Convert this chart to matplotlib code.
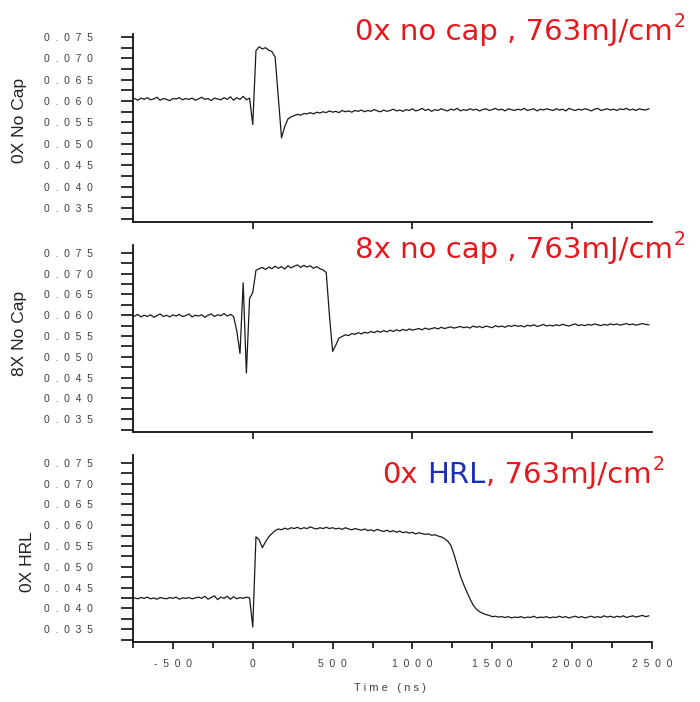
import numpy as np
import matplotlib
matplotlib.use("Agg")
import matplotlib.pyplot as plt
from matplotlib.ticker import FixedLocator, MultipleLocator, NullFormatter

plt.rcParams['font.family'] = ['Liberation Sans', 'DejaVu Sans']

# Sampling grid of the transient recordings (ns)
time_ns = np.arange(-740, 2500, 20)

# 0X, no cap, 763 mJ/cm^2
signal_0x_nocap = [
    0.0606, 0.0602, 0.0607, 0.0604, 0.0608, 0.0603, 0.0605, 0.0609, 0.0602, 0.0606,
    0.0604, 0.0601, 0.0606, 0.0605, 0.0608, 0.0603, 0.0606, 0.0604, 0.0607, 0.0602,
    0.0605, 0.0609, 0.0604, 0.0606, 0.0601, 0.0607, 0.0605, 0.0603, 0.0608, 0.0604,
    0.0610, 0.0602, 0.0608, 0.0604, 0.0611, 0.0603, 0.0607, 0.0545, 0.0718, 0.0727,
    0.0722, 0.0725, 0.0719, 0.0716, 0.0703, 0.0610, 0.0514, 0.0540, 0.0558, 0.0563,
    0.0566, 0.0569, 0.0567, 0.0571, 0.0570, 0.0573, 0.0570, 0.0574, 0.0572, 0.0575,
    0.0573, 0.0577, 0.0574, 0.0576, 0.0573, 0.0578, 0.0575, 0.0577, 0.0574, 0.0578,
    0.0576, 0.0579, 0.0575, 0.0578, 0.0576, 0.0580, 0.0577, 0.0575, 0.0579, 0.0576,
    0.0578, 0.0581, 0.0577, 0.0579, 0.0576, 0.0580, 0.0578, 0.0582, 0.0577, 0.0579,
    0.0583, 0.0578, 0.0581, 0.0576, 0.0580, 0.0578, 0.0582, 0.0579, 0.0577, 0.0581,
    0.0579, 0.0583, 0.0577, 0.0580, 0.0578, 0.0582, 0.0579, 0.0581, 0.0577, 0.0580,
    0.0582, 0.0578, 0.0580, 0.0583, 0.0579, 0.0581, 0.0577, 0.0582, 0.0580, 0.0578,
    0.0581, 0.0579, 0.0583, 0.0578, 0.0580, 0.0582, 0.0577, 0.0581, 0.0579, 0.0582,
    0.0580, 0.0578, 0.0582, 0.0579, 0.0581, 0.0577, 0.0583, 0.0580, 0.0578, 0.0581,
    0.0579, 0.0582, 0.0580, 0.0577, 0.0581, 0.0583, 0.0578, 0.0580, 0.0582, 0.0579,
    0.0581, 0.0578, 0.0582, 0.0580, 0.0583, 0.0579, 0.0581, 0.0578, 0.0582, 0.0580,
    0.0579, 0.0582,
]

# 8X, no cap, 763 mJ/cm^2
signal_8x_nocap = [
    0.0598, 0.0602, 0.0596, 0.0600, 0.0597, 0.0601, 0.0595, 0.0599, 0.0603, 0.0597,
    0.0600, 0.0596, 0.0601, 0.0598, 0.0602, 0.0597, 0.0599, 0.0603, 0.0596, 0.0600,
    0.0598, 0.0601, 0.0595, 0.0600, 0.0603, 0.0597, 0.0601, 0.0599, 0.0604, 0.0598,
    0.0602, 0.0597, 0.0562, 0.0508, 0.0678, 0.0461, 0.0640, 0.0655, 0.0708, 0.0712,
    0.0715, 0.0710, 0.0716, 0.0712, 0.0718, 0.0713, 0.0717, 0.0711, 0.0719, 0.0714,
    0.0718, 0.0721, 0.0715, 0.0720, 0.0716, 0.0719, 0.0713, 0.0717, 0.0712, 0.0709,
    0.0703, 0.0600, 0.0513, 0.0528, 0.0545, 0.0549, 0.0553, 0.0551, 0.0556, 0.0554,
    0.0558, 0.0555, 0.0559, 0.0557, 0.0561, 0.0558, 0.0562, 0.0559, 0.0563, 0.0560,
    0.0564, 0.0561, 0.0565, 0.0562, 0.0566, 0.0563, 0.0567, 0.0564, 0.0566, 0.0568,
    0.0565, 0.0569, 0.0566, 0.0568, 0.0570, 0.0567, 0.0571, 0.0568, 0.0570, 0.0572,
    0.0569, 0.0571, 0.0573, 0.0570, 0.0572, 0.0569, 0.0574, 0.0571, 0.0573, 0.0570,
    0.0574, 0.0572, 0.0570, 0.0575, 0.0572, 0.0574, 0.0571, 0.0575, 0.0573, 0.0576,
    0.0573, 0.0575, 0.0572, 0.0576, 0.0574, 0.0577, 0.0573, 0.0575, 0.0578, 0.0574,
    0.0576, 0.0574, 0.0577, 0.0575, 0.0578, 0.0576, 0.0574, 0.0577, 0.0579, 0.0575,
    0.0577, 0.0575, 0.0578, 0.0576, 0.0579, 0.0577, 0.0575, 0.0578, 0.0576, 0.0579,
    0.0577, 0.0579, 0.0576, 0.0578, 0.0580, 0.0577, 0.0579, 0.0576, 0.0578, 0.0580,
    0.0578, 0.0577,
]

# 0X, HRL cap, 763 mJ/cm^2
signal_0x_hrl = [
    0.0425, 0.0423, 0.0426, 0.0424, 0.0427, 0.0423, 0.0425, 0.0422, 0.0426, 0.0424,
    0.0423, 0.0426, 0.0424, 0.0427, 0.0422, 0.0425, 0.0424, 0.0426, 0.0423, 0.0425,
    0.0427, 0.0424, 0.0429, 0.0422, 0.0426, 0.0430, 0.0421, 0.0427, 0.0424, 0.0429,
    0.0422, 0.0428, 0.0423, 0.0426, 0.0424, 0.0427, 0.0425, 0.0355, 0.0572, 0.0565,
    0.0546, 0.0560, 0.0572, 0.0580, 0.0587, 0.0591, 0.0589, 0.0593, 0.0590, 0.0594,
    0.0592, 0.0595, 0.0591, 0.0594, 0.0592, 0.0596, 0.0593, 0.0591, 0.0594, 0.0592,
    0.0595, 0.0592, 0.0594, 0.0591, 0.0593, 0.0590, 0.0594, 0.0591, 0.0589, 0.0592,
    0.0590, 0.0588, 0.0591, 0.0587, 0.0589, 0.0586, 0.0590, 0.0587, 0.0585, 0.0588,
    0.0584, 0.0587, 0.0583, 0.0586, 0.0582, 0.0584, 0.0581, 0.0583, 0.0579, 0.0582,
    0.0580, 0.0578, 0.0579, 0.0576, 0.0577, 0.0574, 0.0572, 0.0568, 0.0562, 0.0552,
    0.0530, 0.0504, 0.0478, 0.0458, 0.0440, 0.0423, 0.0408, 0.0398, 0.0392, 0.0388,
    0.0385, 0.0383, 0.0380, 0.0381, 0.0379, 0.0380, 0.0378, 0.0380, 0.0377, 0.0379,
    0.0378, 0.0380, 0.0377, 0.0379, 0.0378, 0.0381, 0.0377, 0.0379, 0.0378, 0.0380,
    0.0377, 0.0379, 0.0378, 0.0381, 0.0378, 0.0380, 0.0377, 0.0379, 0.0381, 0.0378,
    0.0380, 0.0377, 0.0379, 0.0381, 0.0378, 0.0380, 0.0378, 0.0382, 0.0379, 0.0381,
    0.0378, 0.0381, 0.0379, 0.0382, 0.0378, 0.0380, 0.0382, 0.0379, 0.0381, 0.0383,
    0.0380, 0.0382,
]

panel_signals = [signal_0x_nocap, signal_8x_nocap, signal_0x_hrl]
panel_ylabels = ["0X No Cap", "8X No Cap", "0X HRL"]

ytick_values = [0.035, 0.040, 0.045, 0.050, 0.055, 0.060, 0.065, 0.070, 0.075]
ytick_labels = ["0.035", "0.040", "0.045", "0.050", "0.055", "0.060", "0.065", "0.070", "0.075"]
xtick_values = [-500, 0, 500, 1000, 1500, 2000, 2500]
xtick_labels = ["-500", "0", "500", "1000", "1500", "2000", "2500"]
upper_xtick_values = [0, 1000, 2000]

RED = "#e3191e"
BLUE = "#1c2fb4"
TICK_GREY = "#404040"


def spaced(s, gap="  "):
    return gap.join(s)


W, H = 700, 702
fig = plt.figure(figsize=(W / 100, H / 100), dpi=100)

# axes boxes in pixels: (top, bottom) of each panel, shared left/right
left_px, right_px = 133, 652
panel_rows = [(34, 222), (245, 432), (455, 642)]
panel_ylims = [(0.0317, 0.0757), (0.0319, 0.0769), (0.0319, 0.0769)]

axes = []
for i, ((top, bot), ylim, sig) in enumerate(zip(panel_rows, panel_ylims, panel_signals)):
    ax = fig.add_axes([left_px / W, 1 - bot / H, (right_px - left_px) / W, (bot - top) / H])
    ax.plot(time_ns, sig, color="#1a1a1a", lw=0.9)
    ax.set_xlim(-750, 2500)
    ax.set_ylim(*ylim)
    for side in ("top", "right"):
        ax.spines[side].set_visible(False)
    for side in ("left", "bottom"):
        ax.spines[side].set_linewidth(1.3)
        ax.spines[side].set_color("#111111")

    ax.yaxis.set_major_locator(FixedLocator(ytick_values))
    ax.set_yticklabels([spaced(s) for s in ytick_labels])
    ax.yaxis.set_minor_locator(MultipleLocator(0.0025))
    ax.tick_params(axis="y", which="both", direction="out", length=9, width=1.2,
                   color="#111111", pad=20, labelsize=7.5, labelcolor=TICK_GREY)

    if i < 2:
        ax.xaxis.set_major_locator(FixedLocator(upper_xtick_values))
        ax.xaxis.set_major_formatter(NullFormatter())
        ax.tick_params(axis="x", which="major", direction="out", length=5, width=1.2,
                       color="#111111")
    else:
        ax.xaxis.set_major_locator(FixedLocator(xtick_values))
        ax.set_xticklabels([spaced(s) for s in xtick_labels])
        ax.xaxis.set_minor_locator(MultipleLocator(250))
        ax.tick_params(axis="x", which="major", direction="out", length=5, width=1.2,
                       color="#111111", pad=7, labelsize=7.5, labelcolor=TICK_GREY)
        ax.tick_params(axis="x", which="minor", direction="out", length=4, width=1.2,
                       color="#111111")
    axes.append(ax)

# panel labels on the left
ylabel_pos = [(20, 120), (20, 333), (27, 562)]
for name, (x, y) in zip(panel_ylabels, ylabel_pos):
    fig.text(x / W, 1 - y / H, name, rotation=90, ha="center", va="center",
             fontsize=12.5, color="#222222")

# x axis title
fig.text(390 / W, 1 - 688 / H, "T i m e   ( n s )", ha="center", va="center",
         fontsize=8, color=TICK_GREY)

# condition headings, built piece by piece so colours can change mid-line
title_font = dict(family=["DejaVu Sans"], fontsize=21)
renderer = fig.canvas.get_renderer()


def heading(x_px, baseline_px, parts):
    x = x_px
    y = 1 - baseline_px / H
    color = None
    for text, color, gap in parts:
        x += gap
        t = fig.text(x / W, y, text, color=color, va="baseline", ha="left", **title_font)
        x = t.get_window_extent(renderer).x1
    fig.text((x + 1) / W, 1 - (baseline_px - 13) / H, "2", color=color,
             va="baseline", ha="left", family=["DejaVu Sans"], fontsize=13.5)


heading(355, 40, [("0x no cap , 763mJ/cm", RED, 0)])
heading(355, 258, [("8x no cap , 763mJ/cm", RED, 0)])
heading(382, 483, [("0x", RED, 0), ("HRL", BLUE, 10), (", 763mJ/cm", RED, 0)])

fig.savefig("out.png", dpi=100, facecolor="white")
